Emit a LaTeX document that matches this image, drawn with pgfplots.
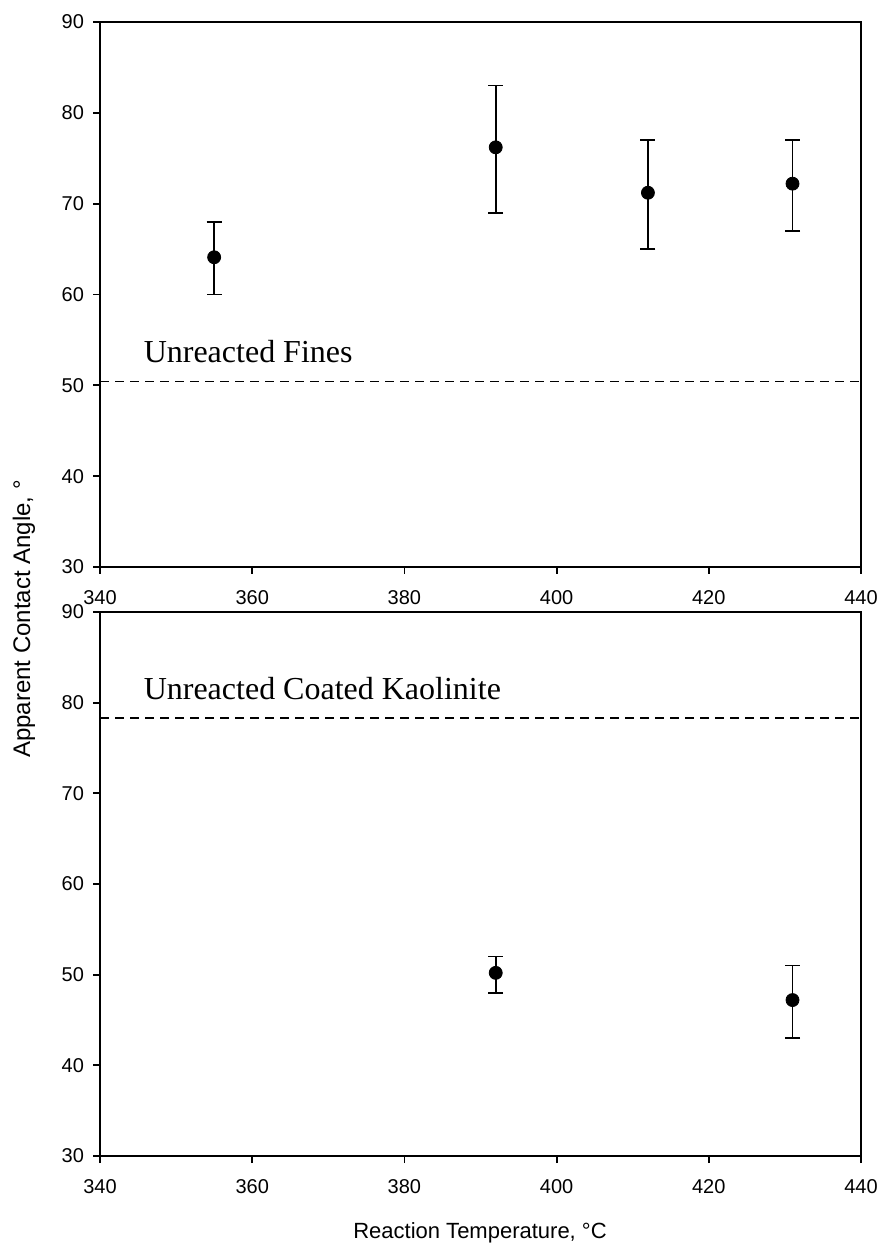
\documentclass[border=0pt]{standalone}
\usepackage{fontspec}
\setmainfont{Liberation Sans}
\newfontfamily\serifann{Liberation Serif}
\usepackage{pgfplots}
\usepackage{pgfplotstable}
\pgfplotsset{compat=1.18}

% Contact angle vs reaction temperature, with upper/lower error limits
\pgfplotstableread{
T    y     ep   em
355  64.1  3.9  4.1
392  76.2  6.8  7.2
412  71.2  5.8  6.2
431  72.2  4.8  5.2
}\fines
\pgfplotstableread{
T    y     ep   em
392  50.2  1.8  2.2
431  47.2  3.8  4.2
}\kaolinite

\pgfplotsset{
  panel/.style={
    scale only axis,
    width=380.5pt,
    height=272.5pt,
    xmin=340, xmax=440,
    ymin=30, ymax=90,
    xtick={340,360,...,440},
    ytick={30,40,...,90},
    xtick pos=left, ytick pos=left,
    tick align=outside,
    major tick length=3.5pt,
    axis line style={line width=0.9pt},
    major tick style={line width=0.9pt, black},
    tick label style={font=\fontsize{10}{12}\selectfont},
    xticklabel style={yshift=-4.5pt},
    yticklabel style={xshift=-1pt},
    /pgf/number format/assume math mode=true,
    /pgf/number format/1000 sep={},
    clip=false,
  },
  pts/.style={
    only marks,
    mark=*,
    mark size=3.25pt,
    mark options={fill=black, draw=black},
    black,
    error bars/.cd,
      y dir=both, y explicit,
      error bar style={line width=0.8pt, black},
      error mark options={rotate=90, mark size=3.75pt, line width=0.8pt, black},
  },
  ref/.style={black, line width=0.8pt, dash pattern=on 4.5pt off 3pt},
}
\tikzset{annot/.style={anchor=base west, font=\serifann\fontsize{16}{18}\selectfont, inner sep=0pt}}

\begin{document}
\begin{tikzpicture}
% upper panel: unreacted fines
\begin{axis}[panel, at={(50pt,340pt)}, anchor=south west]
  \addplot[ref] coordinates {(340,50.4) (440,50.4)};
  \node[annot] at (axis cs:345.7,52.5) {Unreacted Fines};
  \addplot[pts] table[x=T, y=y, y error plus=ep, y error minus=em] {\fines};
\end{axis}
% lower panel: coated kaolinite
\begin{axis}[panel, height=272pt, at={(50pt,45.5pt)}, anchor=south west]
  \addplot[ref] coordinates {(340,78.3) (440,78.3)};
  \node[annot] at (axis cs:345.7,80.4) {Unreacted Coated Kaolinite};
  \addplot[pts] table[x=T, y=y, y error plus=ep, y error minus=em] {\kaolinite};
\end{axis}
% shared axis titles
\node[rotate=90, font=\fontsize{12}{14}\selectfont] at (12pt,314pt) {Apparent Contact Angle, °};
\node[font=\fontsize{11}{13}\selectfont] at (240pt,7pt) {Reaction Temperature, °C};
\pgfresetboundingbox
\useasboundingbox (0,0) rectangle (441pt,623.5pt);
\end{tikzpicture}
\end{document}
